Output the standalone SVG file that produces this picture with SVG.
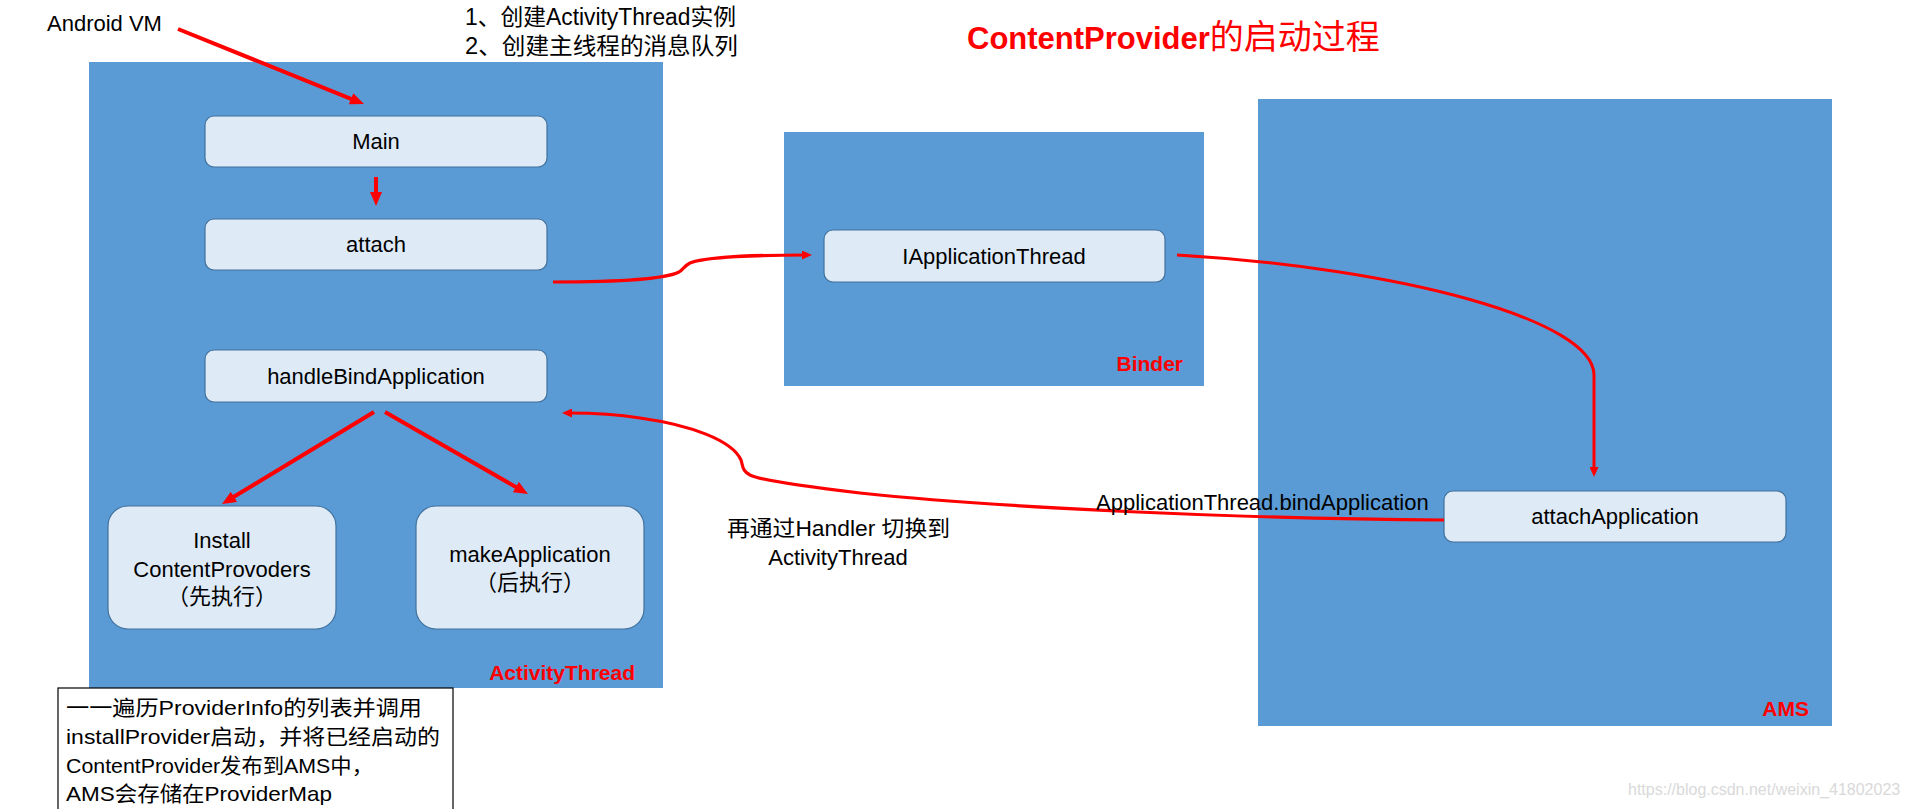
<svg xmlns="http://www.w3.org/2000/svg" width="1909" height="809" viewBox="0 0 1909 809">
<style>
text { font-family: "Liberation Sans", "Noto Sans CJK SC", sans-serif; fill: #000; }
.container { fill: #5B9BD5; }
.node { fill: #DEEBF7; stroke: #41719C; stroke-width: 1.2; }
.nt { font-size: 22px; text-anchor: middle; }
.lbl { font-size: 21px; font-weight: bold; fill: #FF0000; text-anchor: end; }
.thick { fill: none; stroke: #FF0000; stroke-width: 4; }
.curve { fill: none; stroke: #FF0000; stroke-width: 3.2; }
.thin { fill: none; stroke: #FF0000; stroke-width: 3; }
.note { fill: #FFFFFF; stroke: #000000; stroke-width: 1.2; }
.nl { font-size: 21px; }
</style>
<defs>
<marker id="ab" viewBox="0 0 14 12" markerWidth="14" markerHeight="12" refX="4" refY="6" orient="auto" markerUnits="userSpaceOnUse">
<path d="M0,0 L14,6 L0,12 z" fill="#FF0000"/>
</marker>
<marker id="as" viewBox="0 0 10 9" markerWidth="10" markerHeight="9" refX="3" refY="4.5" orient="auto" markerUnits="userSpaceOnUse">
<path d="M0,0 L10,4.5 L0,9 z" fill="#FF0000"/>
</marker>
</defs>
<rect width="1909" height="809" fill="#FFFFFF"/>

<g id="title">
<text x="967" y="49" style="fill:#FF0000"><tspan font-size="31" font-weight="bold">ContentProvider</tspan><tspan font-size="34">的启动过程</tspan></text>
</g>

<g id="android-vm">
<text x="47" y="31" font-size="22">Android VM</text>
</g>
<g id="vm-notes">
<text x="465" y="25" font-size="23" textLength="271" lengthAdjust="spacingAndGlyphs">1、创建ActivityThread实例</text>
<text x="465" y="54" font-size="23" textLength="273" lengthAdjust="spacingAndGlyphs">2、创建主线程的消息队列</text>
</g>

<g id="activitythread">
<rect class="container" x="89" y="62" width="574" height="626"/>
<text class="lbl" x="635" y="680">ActivityThread</text>
</g>
<g id="binder">
<rect class="container" x="784" y="132" width="420" height="254"/>
<text class="lbl" x="1183" y="371">Binder</text>
</g>
<g id="ams">
<rect class="container" x="1258" y="99" width="574" height="627"/>
<text class="lbl" x="1809" y="716">AMS</text>
</g>

<g id="node-main">
<rect class="node" x="205" y="116" width="342" height="51" rx="9"/>
<text class="nt" x="376" y="149">Main</text>
</g>
<g id="node-attach">
<rect class="node" x="205" y="219" width="342" height="51" rx="9"/>
<text class="nt" x="376" y="252">attach</text>
</g>
<g id="node-handlebind">
<rect class="node" x="205" y="350" width="342" height="52" rx="9"/>
<text class="nt" x="376" y="384">handleBindApplication</text>
</g>
<g id="node-install">
<rect class="node" x="108" y="506" width="228" height="123" rx="20"/>
<text class="nt" x="222" y="548">Install</text>
<text class="nt" x="222" y="577" font-size="21.5">ContentProvoders</text>
<text class="nt" x="222" y="604">（先执行）</text>
</g>
<g id="node-makeapp">
<rect class="node" x="416" y="506" width="228" height="123" rx="20"/>
<text class="nt" x="530" y="562">makeApplication</text>
<text class="nt" x="530" y="590">（后执行）</text>
</g>
<g id="node-iappthread">
<rect class="node" x="824" y="230" width="341" height="52" rx="9"/>
<text class="nt" x="994" y="264" font-size="21">IApplicationThread</text>
</g>
<g id="node-attachapp">
<rect class="node" x="1444" y="491" width="342" height="51" rx="9"/>
<text class="nt" x="1615" y="524">attachApplication</text>
</g>

<g id="connectors">
<path class="thick" d="M178,29 L354.7,100.3" marker-end="url(#ab)"/>
<path class="thick" d="M376,177 L376,196" marker-end="url(#ab)"/>
<path class="thick" d="M374,412 L230.6,498.8" marker-end="url(#ab)"/>
<path class="thick" d="M385,412 L519.3,489" marker-end="url(#ab)"/>
<path class="curve" d="M553,282 C615,282 665,279 679,272 C684,269 684,266 690,263 C705,257 760,255 805,255" marker-end="url(#as)"/>
<path class="thin" d="M1177,255 C1400,268 1594,320 1594,375 L1594,470" marker-end="url(#as)"/>
<path class="curve" d="M1444,520 C1250,519 1000,508 860,493 C800,486 760,480 750,475 C742,471 743,466 741,460 C732,440 690,425 640,418 C615,414 595,413 569,413" marker-end="url(#as)"/>
</g>

<g id="edge-labels">
<text x="1096" y="510" font-size="22">ApplicationThread.bindApplication</text>
<text x="727" y="536" font-size="22" textLength="223" lengthAdjust="spacingAndGlyphs">再通过Handler 切换到</text>
<text x="838" y="565" font-size="22" text-anchor="middle">ActivityThread</text>
</g>

<g id="note">
<rect class="note" x="58" y="688" width="395" height="130"/>
<text class="nl" x="66" y="714.5" textLength="356" lengthAdjust="spacingAndGlyphs">一一遍历ProviderInfo的列表并调用</text>
<text class="nl" x="66" y="743.5" textLength="374" lengthAdjust="spacingAndGlyphs">installProvider启动，并将已经启动的</text>
<text class="nl" x="66" y="772.5" textLength="307" lengthAdjust="spacingAndGlyphs">ContentProvider发布到AMS中，</text>
<text class="nl" x="66" y="800.5" textLength="266" lengthAdjust="spacingAndGlyphs">AMS会存储在ProviderMap</text>
</g>

<g id="watermark">
<text x="1628" y="795" font-size="16" style="fill:#D9D9D9">https://blog.csdn.net/weixin_41802023</text>
</g>
</svg>
